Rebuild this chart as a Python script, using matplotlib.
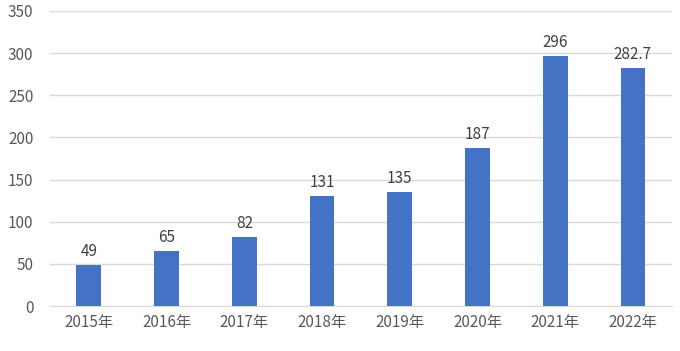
import matplotlib
matplotlib.use("Agg")
import matplotlib.pyplot as plt

plt.rcParams['font.family'] = ['Noto Sans CJK SC', 'DejaVu Sans']

years = ["2015年", "2016年", "2017年", "2018年", "2019年", "2020年", "2021年", "2022年"]
values = [49, 65, 82, 131, 135, 187, 296, 282.7]
labels = ["49", "65", "82", "131", "135", "187", "296", "282.7"]
yticks = [0, 50, 100, 150, 200, 250, 300, 350]

fig = plt.figure(figsize=(6.8, 3.51), dpi=100)
ax = fig.add_axes([0.0735, 0.128, 0.9145, 0.841])

x = list(range(len(years)))
bars = ax.bar(x, values, width=0.32, color="#4472C4", zorder=3)
for xi, v, lab in zip(x, values, labels):
    ax.text(xi, v + 6, lab, ha="center", va="bottom", fontsize=11, color="#404040")

ax.set_xlim(-0.5, len(years) - 0.5)
ax.set_ylim(0, 350)
ax.set_yticks(yticks)
ax.set_xticks(x)
ax.set_xticklabels(years)
ax.tick_params(axis="both", length=0, labelsize=11, colors="#595959")
ax.tick_params(axis="y", pad=12)
ax.tick_params(axis="x", pad=6)
ax.grid(axis="y", color="#D9D9D9", linewidth=1, zorder=0)
for s in ["top", "right", "left"]:
    ax.spines[s].set_visible(False)
ax.spines["bottom"].set_color("#D9D9D9")

fig.savefig("out.png", dpi=100)
